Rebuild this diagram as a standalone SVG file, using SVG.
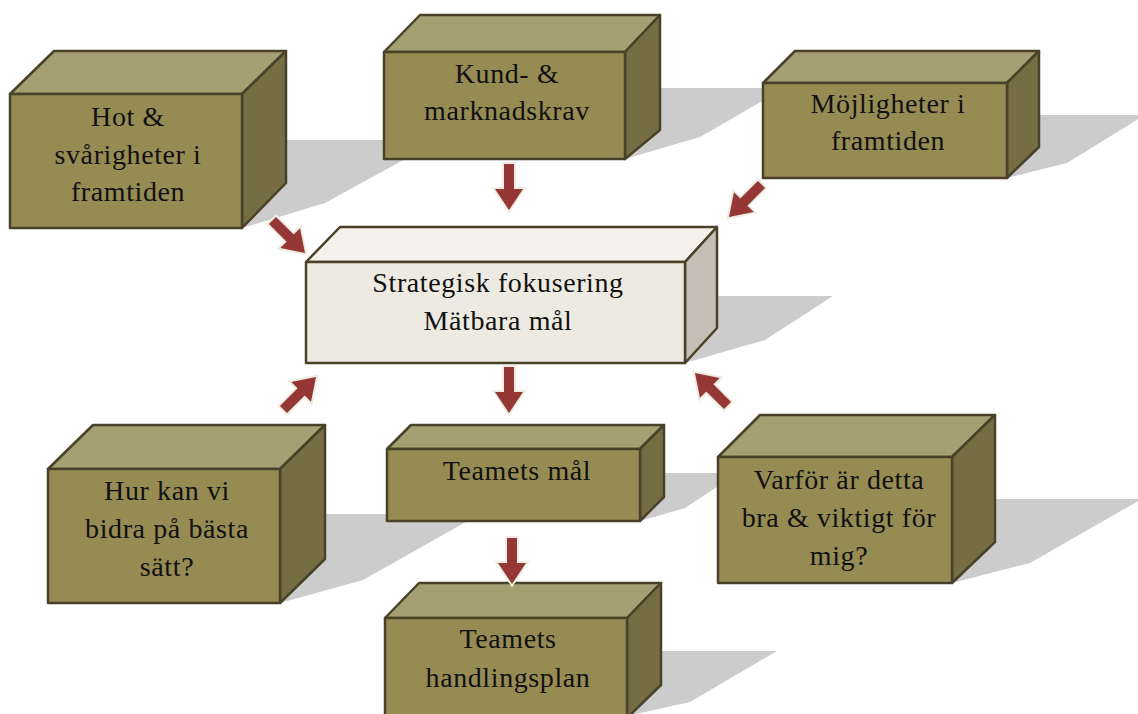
<svg xmlns="http://www.w3.org/2000/svg" width="1138" height="714" viewBox="0 0 1138 714">
  <style>
    .shadow { fill: #cccccc; }
    .front { fill: #978b54; }
    .top { fill: #a69f73; }
    .side { fill: #766d44; }
    .edge { stroke: #4a4228; stroke-width: 2.5; stroke-linejoin: round; }
    .pfront { fill: #edeae1; }
    .ptop { fill: #f3f1ea; }
    .pside { fill: #c4c0b5; }
    .label { font-family: "Liberation Serif", "DejaVu Serif", serif; font-size: 28px; letter-spacing: 0.6px; fill: #111111; text-anchor: middle; }
    .arrow { fill: #953735; stroke: #eeebe0; stroke-width: 4; stroke-linejoin: miter; paint-order: stroke; }
  </style>
  <defs>
    <!-- block arrow, tip at origin, pointing along +y -->
    <path id="blockArrow" d="M -5 -46 L 5 -46 L 5 -21 L 14 -21 L 0 0 L -14 -21 L -5 -21 Z"/>
  </defs>
  <rect width="1138" height="714" fill="#ffffff"/>

  <!-- cast shadows -->
  <g id="shadows">
    <polygon class="shadow" points="286,140 440,140 325,203 242,228 286,183"/>
    <polygon class="shadow" points="660,88 785,88 700,137 625,159 660,130"/>
    <polygon class="shadow" points="1039,115 1140,115 1140,118 1067,163 1007,178 1039,147"/>
    <polygon class="shadow" points="717,296 833,296 765,340 685,363 717,328"/>
    <polygon class="shadow" points="325,514 480,514 363,580 280,603 325,559"/>
    <polygon class="shadow" points="664,473 738,473 685,508 640,521 664,497"/>
    <polygon class="shadow" points="995,499 1140,499 1140,500 1030,563 952,583 995,542"/>
    <polygon class="shadow" points="661,651 777,651 690,702 627,716 661,685"/>
  </g>

  <g id="node-hot">
    <polygon class="top edge" points="10,94 54,51 286,51 242,94"/>
    <polygon class="side edge" points="242,94 286,51 286,183 242,228"/>
    <rect class="front edge" x="10" y="94" width="232" height="134"/>
    <text class="label" x="128" y="126">Hot &amp;</text>
    <text class="label" x="128" y="164">svårigheter i</text>
    <text class="label" x="128" y="201">framtiden</text>
  </g>

  <g id="node-kund">
    <polygon class="top edge" points="384,52 420,15 660,15 625,52"/>
    <polygon class="side edge" points="625,52 660,15 660,130 625,159"/>
    <rect class="front edge" x="384" y="52" width="241" height="107"/>
    <text class="label" x="507" y="83">Kund- &amp;</text>
    <text class="label" x="507" y="120">marknadskrav</text>
  </g>

  <g id="node-mojligheter">
    <polygon class="top edge" points="763,83 795,51 1039,51 1007,83"/>
    <polygon class="side edge" points="1007,83 1039,51 1039,147 1007,178"/>
    <rect class="front edge" x="763" y="83" width="244" height="95"/>
    <text class="label" x="888" y="113">Möjligheter i</text>
    <text class="label" x="888" y="150">framtiden</text>
  </g>

  <g id="node-strategi">
    <polygon class="ptop edge" points="306,262 340,227 717,227 685,262"/>
    <polygon class="pside edge" points="685,262 717,227 717,328 685,363"/>
    <rect class="pfront edge" x="306" y="262" width="379" height="101"/>
    <text class="label" x="498" y="292">Strategisk fokusering</text>
    <text class="label" x="498" y="330">Mätbara mål</text>
  </g>

  <g id="node-bidra">
    <polygon class="top edge" points="48,469 93,425 325,425 280,469"/>
    <polygon class="side edge" points="280,469 325,425 325,559 280,603"/>
    <rect class="front edge" x="48" y="469" width="232" height="134"/>
    <text class="label" x="167" y="500">Hur kan vi</text>
    <text class="label" x="167" y="538">bidra på bästa</text>
    <text class="label" x="167" y="576">sätt?</text>
  </g>

  <g id="node-teamets-mal">
    <polygon class="top edge" points="387,449 411,425 664,425 640,449"/>
    <polygon class="side edge" points="640,449 664,425 664,497 640,521"/>
    <rect class="front edge" x="387" y="449" width="253" height="72"/>
    <text class="label" x="517" y="480">Teamets mål</text>
  </g>

  <g id="node-varfor">
    <polygon class="top edge" points="718,457 760,415 995,415 952,457"/>
    <polygon class="side edge" points="952,457 995,415 995,542 952,583"/>
    <rect class="front edge" x="718" y="457" width="234" height="126"/>
    <text class="label" x="839" y="489">Varför är detta</text>
    <text class="label" x="839" y="527">bra &amp; viktigt för</text>
    <text class="label" x="839" y="565">mig?</text>
  </g>

  <g id="node-handlingsplan">
    <polygon class="top edge" points="385,618 419,583 661,583 627,618"/>
    <polygon class="side edge" points="627,618 661,583 661,685 627,718"/>
    <rect class="front edge" x="385" y="618" width="242" height="100"/>
    <text class="label" x="508" y="648">Teamets</text>
    <text class="label" x="508" y="687">handlingsplan</text>
  </g>

  <g id="connectors">
    <use href="#blockArrow" class="arrow" transform="translate(509,210)"/>
    <use href="#blockArrow" class="arrow" transform="translate(305,253) rotate(-45)"/>
    <use href="#blockArrow" class="arrow" transform="translate(729,217) rotate(45)"/>
    <use href="#blockArrow" class="arrow" transform="translate(316,377) rotate(-135)"/>
    <use href="#blockArrow" class="arrow" transform="translate(695,373) rotate(135)"/>
    <use href="#blockArrow" class="arrow" transform="translate(509,413)"/>
    <use href="#blockArrow" class="arrow" transform="translate(512,584)"/>
  </g>
</svg>
